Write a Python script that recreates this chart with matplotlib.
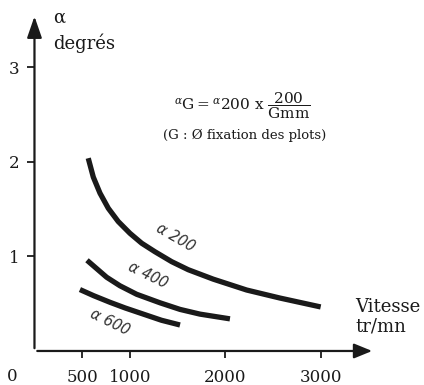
import matplotlib.pyplot as plt

plt.rcParams['font.family'] = ['DejaVu Serif']
plt.rcParams['mathtext.fontset'] = 'dejavuserif'

# courbes (vitesse tr/mn, angle en degrés)
v200 = [563, 616, 686, 773, 877, 1000, 1123, 1262, 1437, 1610, 1872, 2222, 2571, 2997]
a200 = [2.04, 1.84, 1.67, 1.51, 1.37, 1.245, 1.14, 1.05, 0.945, 0.86, 0.76, 0.645, 0.56, 0.466]
v400 = [550, 756, 895, 1070, 1314, 1524, 1733, 2047]
a400 = [0.96, 0.78, 0.69, 0.60, 0.51, 0.44, 0.39, 0.34]
v600 = [476, 620, 791, 950, 1140, 1330, 1524]
a600 = [0.65, 0.585, 0.515, 0.455, 0.39, 0.325, 0.275]

xticks = [500, 1000, 2000, 3000]
yticks = [1, 2, 3]

fig = plt.figure(figsize=(4.24, 3.85), dpi=100)
ax = fig.add_axes([0, 0, 1, 1])
ax.set_xlim(-361, 4079)
ax.set_ylim(-0.36, 3.714)

ink = '#1a1a1a'
for v, a in [(v200, a200), (v400, a400), (v600, a600)]:
    ax.plot(v, a, color=ink, lw=3.8, solid_capstyle='butt', solid_joinstyle='round')

# axes avec flèches
for s in ax.spines.values():
    s.set_visible(False)
ax.spines['left'].set_position(('data', 0))
ax.spines['bottom'].set_position(('data', 0))
ax.annotate('', xy=(3565, 0), xytext=(0, 0),
            arrowprops=dict(arrowstyle='-|>,head_length=1.1,head_width=0.45', lw=1.6, color=ink))
ax.annotate('', xy=(0, 3.57), xytext=(0, 0),
            arrowprops=dict(arrowstyle='-|>,head_length=1.3,head_width=0.45', lw=1.6, color=ink))

ax.set_xticks(xticks)
ax.set_xticklabels([str(t) for t in xticks])
ax.set_yticks(yticks)
ax.set_yticklabels([str(t) for t in yticks])
ax.tick_params(axis='x', direction='out', length=5, width=1.3, pad=8, labelsize=12, colors=ink)
ax.tick_params(axis='y', direction='out', length=5, width=1.3, pad=6, labelsize=12, colors=ink)
ax.text(-236, -0.265, '0', ha='center', va='center', fontsize=12, color=ink)

# titres des axes
ax.text(194, 3.53, 'α', ha='left', va='center', fontsize=13, color=ink)
ax.text(194, 3.26, 'degrés', ha='left', va='center', fontsize=13, color=ink)
ax.text(3356, 0.466, 'Vitesse', ha='left', va='center', fontsize=13, color=ink)
ax.text(3356, 0.254, 'tr/mn', ha='left', va='center', fontsize=13, color=ink)

# formule
ax.text(1460, 2.60,
        r'${}^{\alpha}\mathrm{G} = {}^{\alpha}\mathrm{200\ x}\ \dfrac{\mathrm{200}}{\mathrm{Gmm}}$',
        ha='left', va='center', fontsize=11, color=ink)
ax.text(2204, 2.286, '(G : Ø fixation des plots)', ha='center', va='center',
        fontsize=9.5, color=ink)

# étiquettes des courbes
lab = dict(ha='center', va='center', fontsize=10.5, color='#333333',
           family='DejaVu Sans', style='italic')
ax.text(1472, 1.20, 'α 200', rotation=-30, **lab)
ax.text(1190, 0.80, 'α 400', rotation=-26, **lab)
ax.text(790, 0.31, 'α 600', rotation=-26, **lab)

fig.savefig('out.png', dpi=100)
